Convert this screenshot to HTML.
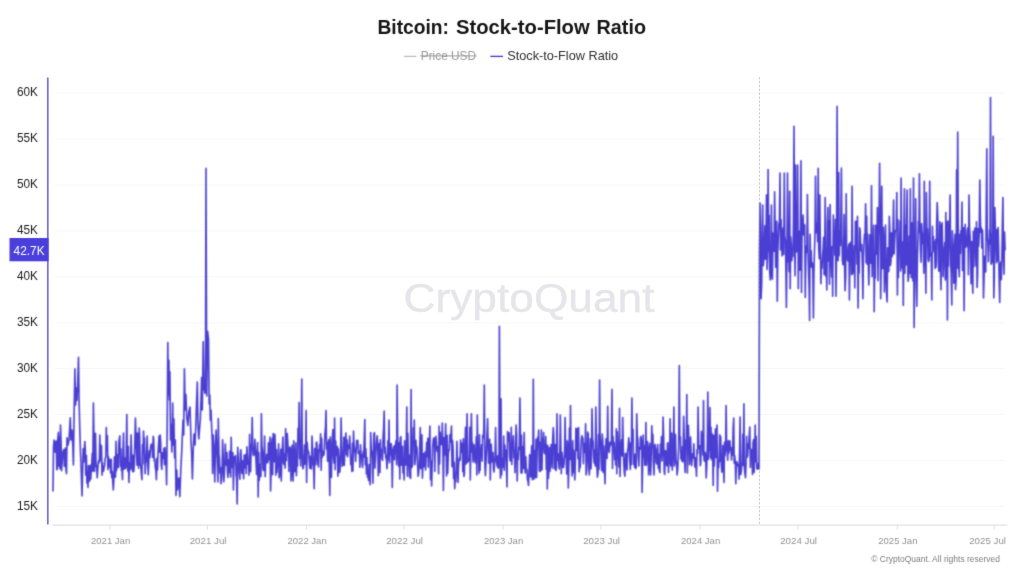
<!DOCTYPE html>
<html lang="en"><head><meta charset="utf-8"><title>Bitcoin: Stock-to-Flow Ratio</title>
<style>
html,body{margin:0;padding:0;background:#fff;}
body{width:1024px;height:572px;overflow:hidden;font-family:"Liberation Sans",sans-serif;}
svg{display:block;position:absolute;left:0;top:0;}
text{font-family:"Liberation Sans",sans-serif;}
.yl{font-size:12px;fill:#1c1c1c;text-anchor:end;}
.xl{font-size:9.8px;fill:#929292;text-anchor:middle;}
</style></head><body>
<svg width="1024" height="572" viewBox="0 0 1024 572">
<rect width="1024" height="572" fill="#ffffff"/>
<g stroke="#f7f7f7" stroke-width="1"><line x1="54.5" y1="93.1" x2="1004" y2="93.1"/><line x1="54.5" y1="139.0" x2="1004" y2="139.0"/><line x1="54.5" y1="185.0" x2="1004" y2="185.0"/><line x1="54.5" y1="230.9" x2="1004" y2="230.9"/><line x1="54.5" y1="276.8" x2="1004" y2="276.8"/><line x1="54.5" y1="322.8" x2="1004" y2="322.8"/><line x1="54.5" y1="368.7" x2="1004" y2="368.7"/><line x1="54.5" y1="414.6" x2="1004" y2="414.6"/><line x1="54.5" y1="460.5" x2="1004" y2="460.5"/><line x1="54.5" y1="506.5" x2="1004" y2="506.5"/></g>
<text x="403.5" y="312" font-size="40" fill="#e5e5ea" stroke="#e5e5ea" stroke-width="0.35" textLength="251" lengthAdjust="spacingAndGlyphs">CryptoQuant</text>
<line x1="52.5" y1="525.2" x2="1007.5" y2="525.2" stroke="#e1e1e1" stroke-width="1.2"/>
<g stroke="#e1e1e1" stroke-width="1"><line x1="110" y1="525" x2="110" y2="529.5"/><line x1="207.5" y1="525" x2="207.5" y2="529.5"/><line x1="306.5" y1="525" x2="306.5" y2="529.5"/><line x1="404" y1="525" x2="404" y2="529.5"/><line x1="503" y1="525" x2="503" y2="529.5"/><line x1="601" y1="525" x2="601" y2="529.5"/><line x1="700" y1="525" x2="700" y2="529.5"/><line x1="798" y1="525" x2="798" y2="529.5"/><line x1="897.25" y1="525" x2="897.25" y2="529.5"/><line x1="994.25" y1="525" x2="994.25" y2="529.5"/></g>
<defs><filter id="soft" x="0" y="0" width="1024" height="572" filterUnits="userSpaceOnUse" color-interpolation-filters="sRGB"><feConvolveMatrix order="3" kernelMatrix="0.0439 0.1217 0.0439 0.1217 0.3377 0.1217 0.0439 0.1217 0.0439" edgeMode="none" preserveAlpha="false"/></filter><filter id="soft2" x="0" y="0" width="1024" height="572" filterUnits="userSpaceOnUse" color-interpolation-filters="sRGB"><feConvolveMatrix order="3" kernelMatrix="0.0113 0.0838 0.0113 0.0838 0.6193 0.0838 0.0113 0.0838 0.0113" edgeMode="none" preserveAlpha="false"/></filter></defs>
<path d="M53.0 491.0 L53.5 447.0 L54.1 440.1 L54.6 444.5 L55.2 452.3 L55.7 442.4 L56.2 440.9 L56.8 469.8 L57.3 468.7 L57.8 438.8 L58.4 432.4 L58.9 466.1 L59.5 437.2 L60.0 468.9 L60.5 425.0 L61.1 443.4 L61.6 470.7 L62.2 460.5 L62.7 453.7 L63.2 450.8 L63.8 449.6 L64.3 466.3 L64.8 459.7 L65.4 448.1 L65.9 468.6 L66.5 473.6 L67.0 437.9 L67.5 441.5 L68.0 445.0 L69.0 440.0 L70.3 417.7 L71.0 440.0 L72.0 430.0 L72.8 445.0 L73.4 465.0 L74.0 420.0 L74.9 368.9 L75.6 405.0 L76.3 388.0 L77.0 400.4 L77.8 380.0 L78.5 357.2 L79.2 405.0 L79.8 430.0 L80.5 452.0 L81.2 470.0 L82.0 496.0 L82.8 465.0 L83.2 448.7 L83.7 462.1 L84.2 451.8 L84.8 441.5 L85.3 449.6 L85.8 475.3 L86.4 455.5 L86.9 483.1 L87.5 472.2 L88.0 487.5 L88.5 465.8 L89.1 477.3 L89.6 481.1 L90.2 465.3 L90.7 479.3 L91.2 471.3 L91.8 462.9 L92.3 453.1 L92.8 471.2 L93.4 403.0 L93.9 434.9 L94.5 471.5 L95.0 457.8 L95.5 433.2 L96.1 466.5 L96.6 465.4 L97.2 477.7 L97.7 471.0 L98.2 462.9 L98.8 460.4 L99.3 462.6 L99.8 435.1 L100.4 460.5 L100.9 445.0 L101.5 446.2 L102.0 475.1 L102.5 462.5 L103.1 471.4 L103.6 471.0 L104.2 466.7 L104.7 465.2 L105.2 458.3 L105.8 456.8 L106.3 427.5 L106.8 449.9 L107.4 435.7 L107.9 469.6 L108.5 456.8 L109.0 466.5 L109.5 467.0 L110.1 459.6 L110.6 472.9 L111.2 459.2 L111.7 477.5 L112.2 471.4 L112.8 482.1 L113.3 490.0 L113.9 479.0 L114.4 456.8 L114.9 465.6 L115.5 477.1 L116.0 441.2 L116.5 470.7 L117.1 454.7 L117.6 461.5 L118.2 467.7 L118.7 444.7 L119.2 439.6 L119.8 435.9 L120.3 466.2 L120.9 448.9 L121.4 470.6 L121.9 467.6 L122.5 479.6 L123.0 448.9 L123.5 433.0 L124.1 469.2 L124.6 457.7 L125.2 461.6 L125.7 468.4 L126.2 461.0 L126.8 414.5 L127.3 463.9 L127.9 471.3 L128.4 446.2 L128.9 482.5 L129.5 462.9 L130.0 468.8 L130.5 469.4 L131.1 434.9 L131.6 452.6 L132.2 468.0 L132.7 471.7 L133.2 455.4 L133.8 471.5 L134.3 464.5 L134.9 438.9 L135.4 418.0 L135.9 433.2 L136.5 452.7 L137.0 465.2 L137.5 433.0 L138.1 445.1 L138.6 468.2 L139.2 428.0 L139.7 436.5 L140.2 465.1 L140.8 465.8 L141.3 472.7 L141.9 479.7 L142.4 444.7 L142.9 464.0 L143.5 431.0 L144.0 445.0 L144.5 438.1 L145.1 473.7 L145.6 463.6 L146.2 460.9 L146.7 450.2 L147.2 436.1 L147.8 466.1 L148.3 474.7 L148.9 458.7 L149.4 450.8 L149.9 457.7 L150.5 448.1 L151.0 445.0 L151.5 444.2 L152.1 446.2 L152.6 457.5 L153.2 436.3 L153.7 438.7 L154.2 460.9 L154.8 459.0 L155.3 467.7 L155.9 470.9 L156.4 479.7 L156.9 458.4 L157.5 469.9 L158.0 454.0 L158.5 445.5 L159.1 436.0 L159.6 452.2 L160.2 435.0 L160.7 442.6 L161.2 464.4 L161.8 469.5 L162.3 452.9 L162.9 458.3 L163.4 456.4 L163.9 448.3 L164.5 464.8 L165.0 447.5 L165.5 460.3 L165.8 452.0 L166.6 484.7 L167.2 430.0 L167.8 342.5 L168.3 395.0 L168.9 360.3 L169.4 400.0 L169.9 371.7 L170.5 440.0 L171.2 425.0 L171.8 452.0 L172.7 403.0 L173.3 445.0 L173.9 419.0 L174.6 458.0 L175.3 440.0 L176.0 495.5 L176.8 470.0 L177.4 490.0 L178.0 484.0 L178.8 478.0 L179.8 496.7 L180.8 470.0 L181.8 450.0 L183.0 420.3 L183.7 435.0 L184.4 368.9 L185.2 410.0 L185.9 394.5 L186.8 418.0 L187.8 425.4 L188.8 412.0 L190.0 407.0 L191.0 440.0 L191.7 455.0 L192.4 479.0 L193.2 450.0 L194.0 434.0 L195.0 445.0 L196.0 420.0 L197.3 382.0 L198.0 425.0 L198.8 439.0 L199.6 428.0 L200.3 420.0 L201.0 400.0 L201.6 377.5 L202.3 410.0 L203.2 341.7 L204.0 388.0 L205.0 393.3 L205.5 386.0 L206.0 168.4 L206.7 396.0 L207.6 331.4 L208.5 339.0 L209.2 404.0 L209.8 395.0 L210.4 420.3 L211.0 410.0 L211.7 428.0 L212.2 440.0 L212.6 473.4 L213.3 435.0 L214.0 450.0 L214.8 482.0 L215.5 445.0 L216.1 430.0 L217.0 455.0 L218.0 482.0 L218.3 418.5 L219.0 455.0 L219.4 456.9 L219.9 473.3 L220.5 467.5 L221.0 483.7 L221.6 477.7 L222.1 467.9 L222.6 439.7 L223.2 457.3 L223.7 481.8 L224.2 476.8 L224.8 464.5 L225.3 444.0 L225.9 459.4 L226.4 465.2 L226.9 452.6 L227.5 473.0 L228.0 477.4 L228.6 459.9 L229.1 472.2 L229.6 451.2 L230.2 471.6 L230.7 477.0 L231.2 437.3 L231.8 467.5 L232.3 467.4 L232.9 452.9 L233.4 490.0 L233.9 466.5 L234.5 456.8 L235.0 459.7 L235.6 455.5 L236.1 474.8 L236.6 478.4 L237.2 504.0 L237.7 447.2 L238.2 457.7 L238.8 466.6 L239.3 473.6 L239.9 479.2 L240.4 453.2 L240.9 449.7 L241.5 467.4 L242.0 473.5 L242.6 460.7 L243.1 467.7 L243.6 478.7 L244.2 455.1 L244.7 466.5 L245.2 467.8 L245.8 454.5 L246.3 473.4 L246.9 446.9 L247.4 457.0 L247.9 464.3 L248.5 462.1 L249.0 475.1 L249.6 434.4 L250.1 457.3 L250.6 471.8 L251.2 446.3 L251.7 443.7 L252.2 417.5 L252.8 449.6 L253.3 455.5 L253.9 455.2 L254.4 447.6 L254.9 439.4 L255.5 451.5 L256.0 460.4 L256.6 474.4 L257.1 451.9 L257.6 442.6 L258.2 497.0 L258.7 452.6 L259.2 480.5 L259.8 464.6 L260.3 469.1 L260.9 476.6 L261.4 413.8 L261.9 445.5 L262.5 451.0 L263.0 469.5 L263.6 470.5 L264.1 457.7 L264.6 436.1 L265.2 476.8 L265.7 460.0 L266.2 460.1 L266.8 454.4 L267.3 462.9 L267.9 461.8 L268.4 442.8 L268.9 459.8 L269.5 449.9 L270.0 437.0 L270.6 491.0 L271.1 470.8 L271.6 444.7 L272.2 438.2 L272.7 474.7 L273.2 433.5 L273.8 447.7 L274.3 461.8 L274.9 434.3 L275.4 449.6 L275.9 475.3 L276.5 449.6 L277.0 472.5 L277.6 459.1 L278.1 466.4 L278.6 443.9 L279.2 477.8 L279.7 474.0 L280.2 463.0 L280.8 449.4 L281.3 481.0 L281.9 455.9 L282.4 446.7 L282.9 437.0 L283.5 462.9 L284.0 464.3 L284.6 453.2 L285.1 468.1 L285.6 428.8 L286.2 460.6 L286.7 447.4 L287.2 433.5 L287.8 442.3 L288.3 455.0 L288.9 471.4 L289.4 448.5 L289.9 447.0 L290.5 448.9 L291.0 481.0 L291.6 461.4 L292.1 445.3 L292.6 470.0 L293.2 481.0 L293.7 440.7 L294.2 459.0 L294.8 471.7 L295.3 454.8 L295.9 442.8 L296.4 475.7 L296.9 457.8 L297.5 466.1 L298.0 428.3 L298.6 442.2 L299.1 402.5 L299.6 458.6 L300.2 442.4 L300.7 466.0 L301.2 430.7 L301.8 379.0 L302.3 453.6 L302.9 468.8 L303.4 467.7 L303.9 459.5 L304.5 445.0 L305.0 464.2 L305.6 455.2 L306.1 410.5 L306.6 482.5 L307.2 442.5 L307.7 449.5 L308.2 451.0 L308.8 452.6 L309.3 462.0 L309.9 468.5 L310.4 456.4 L310.9 467.0 L311.5 468.8 L312.0 436.1 L312.6 448.9 L313.1 464.6 L313.6 464.9 L314.2 488.8 L314.7 448.5 L315.2 465.1 L315.8 457.7 L316.3 442.3 L316.9 442.4 L317.4 464.5 L317.9 450.1 L318.5 467.0 L319.0 452.8 L319.6 444.5 L320.1 451.3 L320.6 433.7 L321.2 470.3 L321.7 438.2 L322.2 457.7 L322.8 453.6 L323.3 451.6 L323.9 455.3 L324.4 447.7 L324.9 434.5 L325.5 428.2 L326.0 410.5 L326.6 449.3 L327.1 442.5 L327.6 461.3 L328.2 444.2 L328.7 439.7 L329.3 467.0 L329.8 495.5 L330.3 437.0 L330.9 450.0 L331.4 477.5 L331.9 454.7 L332.5 435.4 L333.0 429.6 L333.6 458.1 L334.1 463.2 L334.6 418.0 L335.2 469.7 L335.7 441.0 L336.3 455.3 L336.8 449.2 L337.3 446.6 L337.9 476.2 L338.4 448.8 L338.9 457.9 L339.5 472.5 L340.0 470.5 L340.6 454.7 L341.1 418.0 L341.6 444.2 L342.2 466.2 L342.7 464.2 L343.3 458.5 L343.8 437.2 L344.3 465.4 L344.9 445.3 L345.4 438.4 L345.9 433.1 L346.5 455.0 L347.0 439.9 L347.6 456.6 L348.1 445.2 L348.6 448.6 L349.2 444.7 L349.7 436.0 L350.3 451.7 L350.8 464.6 L351.3 460.2 L351.9 471.4 L352.4 443.2 L352.9 471.0 L353.5 431.0 L354.0 444.1 L354.6 449.7 L355.1 453.1 L355.6 461.4 L356.2 449.6 L356.7 440.6 L357.3 443.3 L357.8 440.2 L358.3 453.5 L358.9 451.2 L359.4 452.7 L359.9 467.4 L360.5 444.8 L361.0 454.5 L361.6 454.7 L362.1 463.5 L362.6 467.5 L363.2 451.3 L363.7 457.3 L364.3 436.6 L364.8 419.5 L365.3 464.8 L365.9 448.7 L366.4 473.9 L366.9 457.5 L367.5 477.1 L368.0 474.2 L368.6 480.5 L369.1 464.6 L369.6 477.2 L370.2 484.8 L370.7 432.5 L371.3 450.0 L371.8 452.0 L372.3 457.8 L372.9 483.2 L373.4 448.8 L373.9 433.7 L374.5 432.7 L375.0 468.3 L375.6 457.3 L376.1 449.7 L376.6 441.7 L377.2 435.7 L377.7 443.5 L378.3 475.6 L378.8 459.4 L379.3 443.6 L379.9 472.5 L380.4 439.9 L380.9 455.2 L381.5 449.6 L382.0 458.9 L382.6 460.3 L383.1 436.4 L383.6 428.8 L384.2 411.0 L384.7 453.1 L385.3 447.1 L385.8 457.9 L386.3 455.3 L386.9 468.7 L387.4 462.2 L387.9 440.9 L388.5 459.7 L389.0 420.0 L389.6 462.8 L390.1 444.1 L390.6 454.9 L391.2 443.5 L391.7 449.3 L392.3 487.5 L392.8 452.7 L393.3 449.8 L393.9 446.3 L394.4 459.8 L394.9 445.2 L395.5 446.7 L396.0 440.9 L396.6 464.8 L397.1 385.0 L397.6 434.6 L398.2 457.0 L398.7 466.1 L399.3 442.9 L399.8 479.1 L400.3 438.1 L400.9 436.7 L401.4 465.3 L401.9 456.0 L402.5 446.3 L403.0 473.0 L403.6 458.9 L404.1 480.0 L404.6 440.9 L405.2 464.1 L405.7 465.0 L406.3 446.9 L406.8 407.0 L407.3 476.3 L407.9 433.2 L408.4 454.8 L408.9 461.0 L409.5 476.9 L410.0 454.9 L410.6 478.5 L411.1 389.5 L411.6 467.7 L412.2 466.4 L412.7 463.5 L413.3 427.9 L413.8 445.3 L414.3 420.0 L414.9 464.7 L415.4 458.8 L415.9 440.2 L416.5 451.5 L417.0 447.1 L417.6 464.2 L418.1 476.3 L418.6 473.8 L419.2 466.7 L419.7 449.0 L420.3 427.5 L420.8 468.6 L421.3 452.5 L421.9 434.9 L422.4 478.1 L422.9 466.0 L423.5 453.5 L424.0 466.8 L424.6 454.2 L425.1 452.0 L425.6 470.0 L426.2 453.1 L426.7 442.5 L427.3 456.4 L427.8 438.2 L428.3 467.1 L428.9 449.1 L429.4 440.0 L429.9 426.0 L430.5 479.7 L431.0 461.1 L431.6 486.0 L432.1 468.8 L432.6 447.2 L433.2 440.1 L433.7 437.9 L434.3 442.7 L434.8 471.4 L435.3 439.3 L435.9 436.4 L436.4 442.4 L437.0 451.3 L437.5 446.9 L438.0 452.5 L438.6 473.8 L439.1 426.0 L439.6 464.0 L440.2 432.2 L440.7 444.9 L441.3 436.6 L441.8 444.1 L442.3 423.0 L442.9 451.1 L443.4 490.5 L444.0 437.5 L444.5 451.1 L445.0 455.0 L445.6 423.8 L446.1 447.2 L446.6 475.9 L447.2 435.2 L447.7 473.1 L448.3 454.6 L448.8 449.8 L449.3 450.2 L449.9 434.9 L450.4 441.9 L451.0 433.2 L451.5 426.0 L452.0 466.7 L452.6 440.5 L453.1 449.6 L453.6 478.6 L454.2 462.3 L454.7 488.8 L455.3 477.7 L455.8 481.6 L456.3 467.9 L456.9 441.3 L457.4 462.4 L458.0 482.5 L458.5 466.8 L459.0 460.0 L459.6 457.4 L460.1 460.1 L460.6 440.0 L461.2 452.4 L461.7 443.4 L462.3 448.7 L462.8 471.8 L463.3 438.9 L463.9 476.5 L464.4 474.2 L465.0 444.3 L465.5 427.4 L466.0 464.1 L466.6 441.2 L467.1 413.8 L467.6 462.4 L468.2 460.1 L468.7 460.9 L469.3 459.2 L469.8 427.4 L470.3 480.0 L470.9 439.3 L471.4 413.8 L472.0 452.1 L472.5 442.6 L473.0 462.0 L473.6 450.3 L474.1 444.8 L474.6 457.3 L475.2 462.7 L475.7 454.7 L476.3 436.8 L476.8 475.0 L477.3 415.0 L477.9 454.4 L478.4 451.9 L479.0 473.2 L479.5 434.8 L480.0 470.4 L480.6 449.0 L481.1 454.9 L481.6 444.8 L482.2 461.1 L482.7 435.4 L483.3 437.6 L483.8 429.4 L484.3 385.0 L484.9 465.1 L485.4 475.6 L486.0 463.0 L486.5 449.2 L487.0 434.2 L487.6 418.8 L488.1 444.8 L488.6 463.1 L489.2 450.0 L489.7 439.2 L490.3 480.0 L490.8 455.3 L491.3 444.2 L491.9 462.0 L492.4 454.8 L493.0 452.5 L493.5 469.0 L494.0 472.0 L494.6 462.9 L495.1 455.1 L495.6 427.5 L496.2 459.7 L496.7 463.2 L497.3 466.8 L497.8 455.7 L498.3 468.3 L498.9 462.5 L499.4 326.2 L500.0 462.3 L500.5 478.1 L501.0 398.8 L501.6 475.0 L502.1 461.0 L502.6 458.4 L503.2 466.9 L503.7 436.1 L504.3 470.2 L504.8 445.0 L505.3 457.8 L505.9 450.2 L506.4 465.5 L507.0 487.0 L507.5 431.6 L508.0 437.2 L508.6 440.3 L509.1 432.8 L509.6 456.4 L510.2 460.9 L510.7 457.6 L511.3 427.2 L511.8 464.6 L512.3 443.2 L512.9 444.9 L513.4 435.9 L514.0 458.0 L514.5 451.3 L515.0 472.7 L515.6 444.4 L516.1 425.0 L516.6 434.5 L517.2 481.0 L517.7 454.6 L518.3 459.4 L518.8 447.1 L519.3 449.6 L519.9 398.0 L520.4 434.2 L521.0 473.0 L521.5 435.4 L522.0 473.0 L522.6 457.7 L523.1 446.5 L523.6 468.4 L524.2 432.5 L524.7 464.6 L525.3 472.9 L525.8 456.8 L526.3 471.0 L526.9 469.6 L527.4 479.5 L528.0 481.1 L528.5 485.5 L529.0 471.8 L529.6 454.8 L530.1 462.5 L530.6 477.0 L531.2 456.5 L531.7 445.7 L532.3 479.8 L532.8 473.8 L533.3 379.2 L533.9 479.3 L534.4 458.3 L535.0 450.5 L535.5 477.8 L536.0 439.2 L536.6 477.5 L537.1 452.6 L537.6 437.3 L538.2 439.3 L538.7 430.0 L539.3 471.0 L539.8 442.4 L540.3 471.5 L540.9 462.8 L541.4 430.0 L542.0 470.0 L542.5 439.4 L543.0 448.5 L543.6 432.5 L544.1 452.0 L544.7 453.7 L545.2 453.8 L545.7 436.6 L546.3 469.4 L546.8 444.7 L547.3 489.0 L547.9 445.9 L548.4 478.5 L549.0 469.7 L549.5 447.7 L550.0 471.1 L550.6 459.1 L551.1 444.6 L551.7 457.2 L552.2 468.0 L552.7 438.7 L553.3 427.5 L553.8 435.5 L554.3 468.8 L554.9 464.2 L555.4 444.6 L556.0 470.7 L556.5 466.6 L557.0 413.8 L557.6 460.1 L558.1 453.6 L558.7 462.2 L559.2 469.0 L559.7 461.6 L560.3 415.0 L560.8 442.6 L561.3 473.8 L561.9 452.4 L562.4 457.9 L563.0 467.2 L563.5 467.5 L564.0 463.8 L564.6 449.9 L565.1 417.5 L565.7 456.3 L566.2 458.8 L566.7 473.9 L567.3 440.8 L567.8 446.2 L568.3 488.0 L568.9 464.4 L569.4 428.1 L570.0 459.2 L570.5 405.5 L571.0 454.8 L571.6 462.8 L572.1 475.9 L572.7 440.8 L573.2 472.5 L573.7 450.2 L574.3 464.7 L574.8 480.0 L575.3 463.5 L575.9 428.3 L576.4 450.7 L577.0 438.1 L577.5 428.6 L578.0 458.6 L578.6 427.5 L579.1 471.8 L579.7 466.5 L580.2 467.4 L580.7 455.8 L581.3 440.5 L581.8 435.7 L582.3 436.8 L582.9 438.7 L583.4 463.8 L584.0 443.5 L584.5 450.4 L585.0 452.4 L585.6 423.8 L586.1 475.0 L586.7 470.9 L587.2 457.6 L587.7 432.1 L588.3 434.2 L588.8 466.6 L589.3 475.0 L589.9 464.9 L590.4 438.9 L591.0 468.7 L591.5 457.0 L592.0 408.8 L592.6 439.6 L593.1 441.2 L593.7 456.8 L594.2 463.2 L594.7 450.1 L595.3 466.1 L595.8 407.0 L596.3 436.2 L596.9 466.5 L597.4 477.2 L598.0 473.3 L598.5 434.6 L599.0 469.4 L599.6 380.0 L600.1 435.1 L600.7 444.5 L601.2 461.6 L601.7 470.8 L602.3 434.0 L602.8 440.7 L603.3 472.5 L603.9 446.1 L604.4 466.5 L605.0 483.8 L605.5 458.9 L606.0 438.7 L606.6 442.7 L607.1 458.5 L607.7 406.2 L608.2 449.5 L608.7 449.7 L609.3 452.5 L609.8 442.3 L610.3 445.9 L610.9 443.3 L611.4 440.6 L612.0 389.2 L612.5 468.4 L613.0 436.2 L613.6 450.2 L614.1 442.5 L614.7 459.4 L615.2 455.0 L615.7 465.0 L616.3 428.8 L616.8 473.8 L617.3 431.7 L617.9 458.1 L618.4 451.6 L619.0 467.0 L619.5 408.2 L620.0 476.5 L620.6 451.8 L621.1 445.2 L621.7 439.6 L622.2 455.9 L622.7 417.5 L623.3 448.7 L623.8 463.6 L624.3 472.7 L624.9 476.2 L625.4 453.6 L626.0 453.4 L626.5 467.2 L627.0 469.9 L627.6 450.5 L628.1 448.0 L628.7 437.7 L629.2 444.4 L629.7 460.0 L630.3 469.5 L630.8 442.7 L631.3 464.8 L631.9 398.0 L632.4 440.3 L633.0 429.4 L633.5 464.2 L634.0 459.3 L634.6 467.2 L635.1 454.0 L635.7 468.6 L636.2 467.2 L636.7 413.8 L637.3 436.0 L637.8 438.7 L638.3 457.6 L638.9 466.0 L639.4 447.6 L640.0 449.2 L640.5 438.0 L641.0 436.4 L641.6 442.6 L642.1 492.5 L642.7 462.0 L643.2 435.0 L643.7 457.7 L644.3 445.7 L644.8 465.1 L645.4 459.2 L645.9 422.5 L646.4 465.3 L647.0 452.4 L647.5 441.6 L648.0 449.9 L648.6 474.9 L649.1 454.1 L649.7 443.3 L650.2 468.6 L650.7 475.0 L651.3 454.4 L651.8 425.8 L652.4 445.8 L652.9 434.5 L653.4 462.5 L654.0 475.0 L654.5 448.2 L655.0 444.3 L655.6 449.5 L656.1 462.4 L656.7 464.0 L657.2 450.4 L657.7 444.6 L658.3 468.3 L658.8 454.3 L659.4 470.4 L659.9 472.5 L660.4 444.4 L661.0 450.5 L661.5 436.5 L662.0 460.9 L662.6 450.4 L663.1 417.0 L663.7 440.1 L664.2 471.4 L664.7 474.5 L665.3 450.6 L665.8 451.5 L666.4 463.7 L666.9 465.7 L667.4 443.5 L668.0 442.7 L668.5 472.5 L669.0 455.0 L669.6 463.1 L670.1 418.8 L670.7 465.9 L671.2 458.4 L671.7 433.0 L672.3 470.1 L672.8 455.6 L673.4 443.6 L673.9 407.0 L674.4 465.9 L675.0 459.9 L675.5 434.4 L676.0 460.3 L676.6 464.3 L677.1 475.0 L677.7 469.2 L678.2 457.8 L678.7 448.1 L679.3 365.5 L679.8 439.8 L680.4 436.8 L680.9 458.9 L681.4 452.0 L682.0 461.1 L682.5 446.6 L683.0 461.8 L683.6 416.2 L684.1 433.7 L684.7 463.0 L685.2 472.5 L685.7 440.0 L686.3 448.5 L686.8 394.5 L687.4 472.9 L687.9 426.7 L688.4 425.4 L689.0 443.9 L689.5 464.7 L690.0 457.4 L690.6 437.1 L691.1 456.3 L691.7 465.7 L692.2 456.4 L692.7 453.7 L693.3 457.9 L693.8 443.7 L694.4 459.0 L694.9 466.9 L695.4 457.9 L696.0 465.7 L696.5 476.2 L697.0 449.6 L697.6 453.6 L698.1 407.0 L698.7 448.4 L699.2 446.9 L699.7 445.9 L700.3 465.7 L700.8 462.6 L701.4 431.3 L701.9 441.2 L702.4 437.8 L703.0 455.1 L703.5 400.5 L704.0 459.4 L704.6 461.2 L705.1 452.2 L705.7 457.3 L706.2 478.0 L706.7 468.0 L707.3 443.2 L707.8 392.0 L708.4 459.4 L708.9 437.2 L709.4 450.4 L710.0 407.5 L710.5 457.8 L711.0 427.3 L711.6 459.8 L712.1 433.8 L712.7 455.1 L713.2 485.5 L713.7 435.3 L714.3 466.0 L714.8 448.6 L715.4 429.0 L715.9 457.5 L716.4 438.2 L717.0 425.0 L717.5 491.2 L718.0 465.8 L718.6 467.6 L719.1 457.4 L719.7 434.8 L720.2 461.2 L720.7 436.5 L721.3 463.6 L721.8 472.2 L722.4 468.6 L722.9 445.5 L723.4 464.1 L724.0 482.5 L724.5 442.4 L725.0 455.6 L725.6 448.2 L726.1 405.5 L726.7 451.1 L727.2 450.6 L727.7 460.2 L728.3 440.9 L728.8 453.1 L729.4 445.2 L729.9 440.8 L730.4 450.0 L731.0 448.9 L731.5 459.9 L732.0 447.4 L732.6 455.2 L733.1 429.0 L733.7 418.0 L734.2 463.2 L734.7 455.5 L735.3 462.5 L735.8 483.8 L736.4 465.0 L736.9 461.7 L737.4 465.6 L738.0 464.5 L738.5 464.4 L739.0 479.3 L739.6 450.1 L740.1 417.0 L740.7 474.7 L741.2 471.9 L741.7 465.5 L742.3 462.9 L742.8 434.3 L743.4 465.5 L743.9 403.8 L744.4 468.6 L745.0 474.5 L745.5 477.7 L746.0 465.4 L746.6 436.3 L747.1 457.4 L747.7 455.8 L748.2 443.8 L748.7 448.4 L749.3 433.8 L749.8 427.0 L750.4 467.5 L750.9 449.0 L751.4 451.7 L752.0 450.3 L752.5 474.5 L753.0 442.7 L753.6 439.6 L754.1 472.4 L754.7 454.8 L755.2 425.0 L755.7 461.7 L756.3 436.5 L756.8 468.8 L757.4 469.0 L757.9 465.7 L758.4 463.4 L759.0 469.0 L759.5 251.9 L760.1 203.0 L760.6 254.5 L761.1 298.8 L761.7 283.1 L762.2 226.2 L762.7 205.0 L763.3 265.7 L763.8 259.8 L764.4 248.9 L764.9 225.7 L765.4 259.2 L766.0 235.6 L766.5 195.0 L767.1 269.5 L767.6 255.1 L768.1 169.5 L768.7 250.9 L769.2 215.3 L769.7 271.9 L770.3 280.0 L770.8 274.4 L771.4 205.0 L771.9 263.7 L772.4 279.3 L773.0 233.1 L773.5 250.5 L774.1 251.1 L774.6 191.8 L775.1 225.2 L775.7 267.3 L776.2 236.4 L776.7 221.2 L777.3 301.2 L777.8 253.2 L778.4 235.8 L778.9 223.1 L779.4 223.5 L780.0 173.0 L780.5 249.9 L781.1 219.6 L781.6 238.5 L782.1 256.0 L782.7 233.1 L783.2 227.9 L783.7 254.5 L784.3 173.0 L784.8 236.2 L785.4 240.3 L785.9 268.9 L786.4 307.5 L787.0 250.0 L787.5 173.0 L788.1 261.6 L788.6 236.6 L789.1 271.6 L789.7 191.2 L790.2 288.8 L790.7 236.9 L791.3 244.5 L791.8 260.7 L792.4 249.7 L792.9 256.5 L793.4 223.8 L794.0 126.2 L794.5 239.5 L795.1 275.7 L795.6 165.0 L796.1 252.3 L796.7 245.3 L797.2 251.0 L797.7 165.0 L798.3 288.6 L798.8 246.6 L799.4 231.3 L799.9 270.1 L800.4 227.2 L801.0 160.8 L801.5 292.5 L802.1 229.9 L802.6 225.5 L803.1 215.0 L803.7 234.7 L804.2 235.4 L804.7 224.7 L805.3 297.5 L805.8 257.0 L806.4 246.1 L806.9 252.1 L807.4 194.5 L808.0 248.0 L808.5 269.8 L809.1 288.1 L809.6 320.5 L810.1 234.4 L810.7 266.5 L811.2 250.7 L811.7 267.2 L812.3 262.9 L812.8 270.1 L813.4 318.0 L813.9 273.3 L814.4 254.6 L815.0 234.1 L815.5 176.2 L816.1 232.7 L816.6 223.2 L817.1 224.9 L817.7 241.6 L818.2 168.2 L818.7 248.7 L819.3 258.8 L819.8 195.0 L820.4 248.1 L820.9 283.8 L821.4 263.6 L822.0 268.3 L822.5 255.9 L823.1 248.8 L823.6 237.2 L824.1 274.7 L824.7 253.5 L825.2 197.5 L825.7 275.9 L826.3 260.3 L826.8 290.0 L827.4 223.9 L827.9 207.5 L828.4 260.9 L829.0 220.9 L829.5 284.2 L830.1 204.5 L830.6 253.1 L831.1 262.0 L831.7 276.9 L832.2 246.6 L832.7 296.2 L833.3 215.1 L833.8 243.2 L834.4 236.4 L834.9 255.2 L835.4 219.3 L836.0 296.2 L836.5 250.5 L837.1 106.2 L837.6 251.3 L838.1 260.8 L838.7 172.5 L839.2 255.7 L839.7 231.0 L840.3 245.5 L840.8 230.3 L841.4 168.0 L841.9 236.4 L842.4 260.4 L843.0 264.7 L843.5 264.4 L844.1 214.6 L844.6 267.5 L845.1 290.8 L845.7 276.0 L846.2 193.8 L846.7 252.8 L847.3 258.4 L847.8 260.9 L848.4 247.7 L848.9 244.2 L849.4 300.0 L850.0 243.0 L850.5 255.8 L851.1 241.7 L851.6 274.6 L852.1 186.2 L852.7 273.9 L853.2 250.6 L853.7 271.9 L854.3 245.8 L854.8 288.0 L855.4 221.3 L855.9 229.1 L856.4 221.3 L857.0 264.1 L857.5 216.2 L858.1 308.0 L858.6 257.0 L859.1 273.0 L859.7 227.7 L860.2 231.6 L860.8 250.3 L861.3 251.1 L861.8 244.6 L862.4 268.2 L862.9 298.8 L863.4 257.9 L864.0 242.9 L864.5 234.4 L865.1 235.1 L865.6 203.8 L866.1 262.8 L866.7 216.3 L867.2 264.2 L867.8 234.3 L868.3 262.5 L868.8 284.9 L869.4 263.2 L869.9 234.7 L870.4 253.2 L871.0 263.1 L871.5 185.8 L872.1 276.8 L872.6 248.1 L873.1 254.3 L873.7 225.2 L874.2 311.8 L874.8 251.4 L875.3 278.1 L875.8 225.3 L876.4 248.2 L876.9 253.9 L877.4 207.5 L878.0 280.7 L878.5 236.1 L879.1 216.1 L879.6 163.2 L880.1 215.0 L880.7 298.8 L881.2 261.9 L881.8 186.2 L882.3 260.1 L882.8 268.6 L883.4 227.4 L883.9 240.0 L884.4 291.9 L885.0 268.6 L885.5 225.1 L886.1 271.8 L886.6 294.5 L887.1 302.0 L887.7 247.8 L888.2 271.8 L888.8 271.1 L889.3 216.2 L889.8 227.5 L890.4 265.5 L890.9 261.7 L891.4 232.9 L892.0 256.8 L892.5 254.1 L893.1 223.3 L893.6 200.0 L894.1 253.9 L894.7 240.1 L895.2 230.8 L895.8 230.4 L896.3 229.9 L896.8 192.5 L897.4 295.0 L897.9 219.5 L898.4 277.6 L899.0 240.3 L899.5 251.9 L900.1 220.9 L900.6 271.1 L901.1 178.0 L901.7 267.9 L902.2 252.6 L902.8 242.1 L903.3 305.5 L903.8 234.5 L904.4 188.8 L904.9 273.3 L905.4 224.7 L906.0 265.1 L906.5 226.5 L907.1 190.0 L907.6 261.6 L908.1 281.3 L908.7 276.1 L909.2 236.0 L909.8 273.2 L910.3 188.8 L910.8 270.0 L911.4 277.7 L911.9 222.9 L912.4 259.6 L913.0 280.9 L913.5 178.0 L914.1 327.5 L914.6 269.1 L915.1 252.0 L915.7 198.8 L916.2 278.9 L916.8 306.2 L917.3 266.2 L917.8 244.1 L918.4 221.3 L918.9 232.1 L919.4 173.8 L920.0 231.2 L920.5 248.9 L921.1 262.3 L921.6 223.5 L922.1 232.7 L922.7 243.5 L923.2 233.2 L923.8 273.3 L924.3 181.2 L924.8 265.6 L925.4 246.6 L925.9 293.2 L926.4 192.5 L927.0 239.8 L927.5 228.8 L928.1 258.7 L928.6 261.6 L929.1 260.0 L929.7 181.2 L930.2 251.0 L930.8 256.3 L931.3 253.4 L931.8 300.0 L932.4 226.3 L932.9 247.2 L933.4 236.6 L934.0 251.9 L934.5 242.3 L935.1 268.6 L935.6 239.8 L936.1 267.1 L936.7 221.6 L937.2 202.5 L937.8 218.4 L938.3 260.6 L938.8 271.2 L939.4 265.2 L939.9 221.8 L940.4 267.7 L941.0 289.7 L941.5 225.6 L942.1 222.9 L942.6 246.8 L943.1 276.6 L943.7 258.5 L944.2 249.7 L944.8 242.5 L945.3 280.1 L945.8 212.5 L946.4 278.5 L946.9 222.1 L947.4 320.0 L948.0 221.0 L948.5 266.3 L949.1 239.9 L949.6 230.4 L950.1 195.0 L950.7 264.7 L951.2 274.9 L951.8 305.0 L952.3 230.9 L952.8 240.0 L953.4 256.9 L953.9 283.2 L954.4 252.0 L955.0 234.2 L955.5 289.6 L956.1 280.3 L956.6 170.0 L957.1 268.4 L957.7 132.0 L958.2 223.2 L958.8 267.7 L959.3 276.7 L959.8 234.6 L960.4 253.6 L960.9 230.6 L961.4 242.3 L962.0 202.0 L962.5 270.5 L963.1 237.2 L963.6 227.7 L964.1 310.8 L964.7 245.5 L965.2 224.4 L965.8 247.2 L966.3 245.8 L966.8 245.8 L967.4 230.5 L967.9 227.8 L968.4 274.8 L969.0 195.0 L969.5 228.4 L970.1 236.9 L970.6 261.3 L971.1 283.8 L971.7 241.6 L972.2 270.1 L972.8 293.3 L973.3 231.2 L973.8 266.7 L974.4 239.3 L974.9 228.0 L975.5 241.1 L976.0 265.9 L976.5 221.8 L977.1 287.5 L977.6 274.3 L978.1 228.5 L978.7 246.2 L979.2 234.3 L979.8 180.0 L980.3 215.9 L980.8 232.4 L981.4 228.0 L981.9 248.1 L982.5 230.1 L983.0 247.6 L983.5 298.0 L984.1 276.0 L984.6 256.4 L985.1 256.4 L985.7 271.9 L986.2 217.0 L986.8 148.8 L987.3 240.1 L987.8 240.1 L988.4 261.7 L988.9 249.9 L989.5 229.7 L990.0 243.7 L990.5 97.5 L991.1 264.3 L991.6 263.8 L992.1 233.9 L992.7 261.9 L993.2 136.2 L993.8 298.0 L994.3 278.4 L994.8 207.5 L995.4 229.8 L995.9 241.7 L996.5 262.8 L997.0 229.7 L997.5 260.9 L998.1 227.5 L998.6 246.8 L999.1 276.6 L999.7 302.5 L1000.2 267.0 L1000.8 262.1 L1001.3 279.6 L1001.8 261.7 L1002.4 224.7 L1002.9 197.5 L1003.5 256.7 L1004.0 274.2 L1004.5 232.0 L1005.1 249.7" fill="none" stroke="#4a3fd2" stroke-width="1.62" stroke-linejoin="round" stroke-linecap="round" filter="url(#soft)"/>
<line x1="759.5" y1="77" x2="759.5" y2="525" stroke="#8a8a8a" stroke-opacity="0.42" stroke-width="1" stroke-dasharray="2.4 1.5"/>
<line x1="47.8" y1="77.5" x2="47.8" y2="524.5" stroke="#483dc4" stroke-opacity="0.7" stroke-width="1.8"/>
<g filter="url(#soft2)">
<text class="yl" x="38" y="96.1" textLength="21" lengthAdjust="spacingAndGlyphs">60K</text><text class="yl" x="38" y="142.0" textLength="21" lengthAdjust="spacingAndGlyphs">55K</text><text class="yl" x="38" y="188.0" textLength="21" lengthAdjust="spacingAndGlyphs">50K</text><text class="yl" x="38" y="233.9" textLength="21" lengthAdjust="spacingAndGlyphs">45K</text><text class="yl" x="38" y="279.8" textLength="21" lengthAdjust="spacingAndGlyphs">40K</text><text class="yl" x="38" y="325.8" textLength="21" lengthAdjust="spacingAndGlyphs">35K</text><text class="yl" x="38" y="371.7" textLength="21" lengthAdjust="spacingAndGlyphs">30K</text><text class="yl" x="38" y="417.6" textLength="21" lengthAdjust="spacingAndGlyphs">25K</text><text class="yl" x="38" y="463.5" textLength="21" lengthAdjust="spacingAndGlyphs">20K</text><text class="yl" x="38" y="509.5" textLength="21" lengthAdjust="spacingAndGlyphs">15K</text>
<rect x="9.5" y="238" width="39" height="23.3" fill="#4a3fdb"/><text x="13.6" y="255.2" font-size="12" fill="#ffffff" textLength="31" lengthAdjust="spacingAndGlyphs">42.7K</text>
<text class="xl" x="110.6" y="544" textLength="39.2" lengthAdjust="spacingAndGlyphs">2021 Jan</text><text class="xl" x="208.1" y="544" textLength="36.8" lengthAdjust="spacingAndGlyphs">2021 Jul</text><text class="xl" x="307.1" y="544" textLength="39.2" lengthAdjust="spacingAndGlyphs">2022 Jan</text><text class="xl" x="404.6" y="544" textLength="36.8" lengthAdjust="spacingAndGlyphs">2022 Jul</text><text class="xl" x="503.6" y="544" textLength="39.2" lengthAdjust="spacingAndGlyphs">2023 Jan</text><text class="xl" x="601.6" y="544" textLength="36.8" lengthAdjust="spacingAndGlyphs">2023 Jul</text><text class="xl" x="700.6" y="544" textLength="39.2" lengthAdjust="spacingAndGlyphs">2024 Jan</text><text class="xl" x="798.6" y="544" textLength="36.8" lengthAdjust="spacingAndGlyphs">2024 Jul</text><text class="xl" x="897.85" y="544" textLength="39.2" lengthAdjust="spacingAndGlyphs">2025 Jan</text><text class="xl" x="987.6" y="544" textLength="36.8" lengthAdjust="spacingAndGlyphs">2025 Jul</text>
<text y="33.9" font-size="19.3" font-weight="bold" fill="#141414"><tspan x="377.4" textLength="71.6" lengthAdjust="spacingAndGlyphs">Bitcoin:</tspan> <tspan x="456" textLength="133.7" lengthAdjust="spacingAndGlyphs">Stock-to-Flow</tspan> <tspan x="596.6" textLength="49.4" lengthAdjust="spacingAndGlyphs">Ratio</tspan></text>
<line x1="404" y1="56.4" x2="416.4" y2="56.4" stroke="#bdbdbd" stroke-width="1.3"/><text x="420.8" y="59.7" font-size="13" fill="#9a9a9a" textLength="55.2" lengthAdjust="spacingAndGlyphs">Price USD</text><line x1="420.2" y1="55.9" x2="476.6" y2="55.9" stroke="#9a9a9a" stroke-width="1"/><line x1="490.3" y1="56.4" x2="503" y2="56.4" stroke="#4a3fd2" stroke-width="1.4"/><text x="507.2" y="59.7" font-size="13" fill="#2e2e2e" textLength="111" lengthAdjust="spacingAndGlyphs">Stock-to-Flow Ratio</text>
<text x="871.2" y="562" font-size="9" fill="#7d7d7d" textLength="128.8" lengthAdjust="spacingAndGlyphs">© CryptoQuant. All rights reserved</text>
</g>
</svg>
</body></html>
